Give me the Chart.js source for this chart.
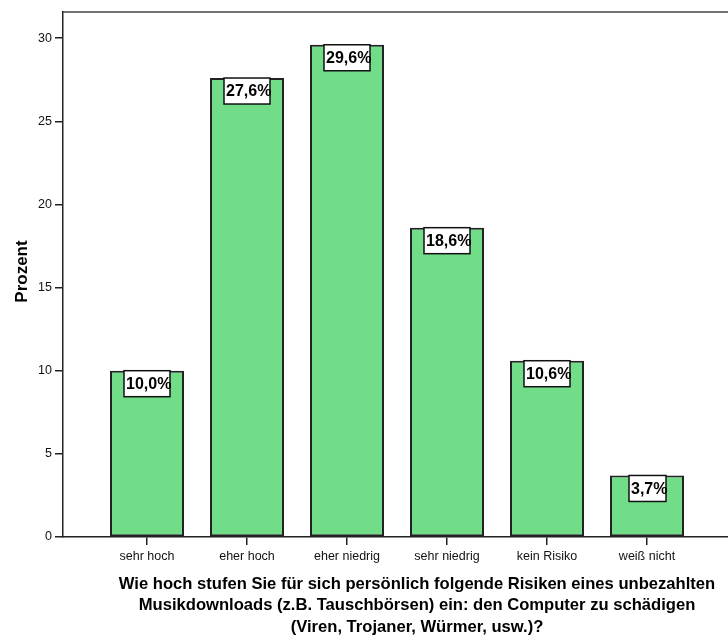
<!DOCTYPE html>
<html>
<head>
<meta charset="utf-8">
<script src="https://cdn.jsdelivr.net/npm/chart.js@4"></script>
<style>
html,body{margin:0;padding:0;background:#fff;}
#wrap{width:728px;height:640px;position:relative;}
</style>
</head>
<body>
<div id="wrap"><canvas id="c" width="728" height="640"></canvas></div>
<script>
const categories = ["sehr hoch","eher hoch","eher niedrig","sehr niedrig","kein Risiko","weiß nicht"];
const percentValues = [10.0, 27.6, 29.6, 18.6, 10.6, 3.7];
const valueLabels = ["10,0%","27,6%","29,6%","18,6%","10,6%","3,7%"];
const yTickValues = [0,5,10,15,20,25,30];
const yAxisTitle = "Prozent";
const xAxisTitleLines = [
  "Wie hoch stufen Sie für sich persönlich folgende Risiken eines unbezahlten",
  "Musikdownloads (z.B. Tauschbörsen) ein: den Computer zu schädigen",
  "(Viren, Trojaner, Würmer, usw.)?"
];

const FONT = "Arial, 'Liberation Sans', sans-serif";

const decorPlugin = {
  id: 'decor',
  afterDatasetsDraw(chart) {
    const {ctx, chartArea} = chart;
    const xs = chart.scales.x;
    ctx.save();
    ctx.strokeStyle = '#444';
    ctx.lineWidth = 1.5;
    ctx.beginPath();
    ctx.moveTo(chartArea.left, chartArea.top);
    ctx.lineTo(chartArea.right, chartArea.top);
    ctx.stroke();
    ctx.font = "bold 16px " + FONT;
    ctx.textBaseline = 'middle';
    ctx.textAlign = 'left';
    const meta = chart.getDatasetMeta(0);
    meta.data.forEach((bar, i) => {
      const cx = bar.x;
      const top = bar.y;
      const tw = ctx.measureText(valueLabels[i]).width;
      const w = Math.round(tw + 1), h = 26;
      const left = Math.round(cx - w/2);
      ctx.fillStyle = '#fff';
      ctx.fillRect(left, top, w, h);
      ctx.strokeStyle = '#111';
      ctx.lineWidth = 1.5;
      ctx.strokeRect(left, top, w, h);
      ctx.fillStyle = '#000';
      ctx.fillText(valueLabels[i], left + 2, top + h/2 + 1);
    });
    ctx.save();
    ctx.translate(22, (chartArea.top + chartArea.bottom)/2 - 3);
    ctx.rotate(-Math.PI/2);
    ctx.font = "bold 17px " + FONT;
    ctx.fillStyle = '#000';
    ctx.textAlign = 'center';
    ctx.textBaseline = 'middle';
    ctx.fillText(yAxisTitle, 0, 0);
    ctx.restore();
    ctx.font = "bold 16.6px " + FONT;
    ctx.fillStyle = '#000';
    ctx.textAlign = 'center';
    ctx.textBaseline = 'middle';
    const tcx = xs.getPixelForValue(2.7);
    xAxisTitleLines.forEach((ln, i) => {
      ctx.fillText(ln, tcx, 584 + i*21.5);
    });
    ctx.restore();
  }
};

new Chart(document.getElementById('c'), {
  type: 'bar',
  data: {
    datasets: [{
      data: percentValues.map((v, i) => ({x: i, y: v})),
      backgroundColor: '#72DD88',
      borderColor: '#222',
      borderWidth: 2,
      borderSkipped: false,
      barPercentage: 0.74,
      categoryPercentage: 1.0
    }]
  },
  options: {
    responsive: false,
    animation: false,
    devicePixelRatio: 1,
    layout: {padding: {top: 12, right: 0, left: 0, bottom: 0}},
    plugins: {legend: {display: false}, tooltip: {enabled: false}, title: {display: false}},
    scales: {
      x: {
        type: 'linear',
        offset: false,
        min: -0.84,
        max: 5.81,
        afterBuildTicks: (s) => { s.ticks = categories.map((c, i) => ({value: i})); },
        afterFit: (s) => { s.height = 103; },
        grid: {display: true, offset: false, drawOnChartArea: false, drawTicks: true, tickLength: 8, color: '#222', lineWidth: 1.5},
        border: {display: true, color: '#222', width: 1.5},
        ticks: {
          autoSkip: false,
          maxRotation: 0,
          padding: 4,
          color: '#111',
          font: {family: FONT, size: 12.5},
          callback: (v) => categories[Math.round(v)] ?? ''
        }
      },
      y: {
        type: 'linear',
        min: 0,
        max: 31.57,
        afterBuildTicks: (s) => { s.ticks = yTickValues.map(v => ({value: v})); },
        afterFit: (s) => { s.width = 63; },
        grid: {display: true, drawOnChartArea: false, drawTicks: true, tickLength: 8, color: '#222', lineWidth: 1.5},
        border: {display: true, color: '#222', width: 1.5},
        ticks: {
          padding: 3,
          color: '#111',
          font: {family: FONT, size: 12.5},
          callback: (v) => String(v)
        }
      }
    }
  },
  plugins: [decorPlugin]
});
</script>
</body>
</html>
